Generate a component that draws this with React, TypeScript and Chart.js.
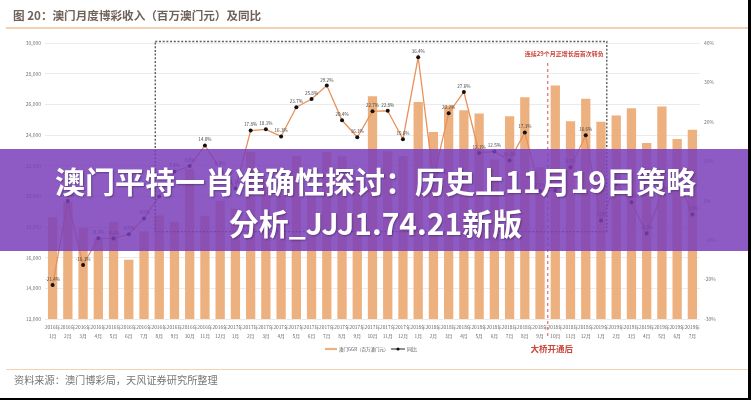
import React, { useEffect, useRef } from 'react';
import { Chart, registerables } from 'chart.js';

Chart.register(...registerables);

const FONT = '"Noto Sans CJK SC", "Noto Sans", sans-serif';

const categories = [
  '2016年1月', '2016年2月', '2016年3月', '2016年4月', '2016年5月', '2016年6月',
  '2016年7月', '2016年8月', '2016年9月', '2016年10月', '2016年11月', '2016年12月',
  '2017年1月', '2017年2月', '2017年3月', '2017年4月', '2017年5月', '2017年6月',
  '2017年7月', '2017年8月', '2017年9月', '2017年10月', '2017年11月', '2017年12月',
  '2018年1月', '2018年2月', '2018年3月', '2018年4月', '2018年5月', '2018年6月',
  '2018年7月', '2018年8月', '2018年9月', '2018年10月', '2018年11月', '2018年12月',
  '2019年1月', '2019年2月', '2019年3月', '2019年4月', '2019年5月', '2019年6月',
  '2019年7月',
];

// 澳门GGR（百万澳门元）
const ggr = [
  18620, 19650, 17930, 17230, 18320, 15860,
  17710, 18750, 18320, 21800, 18730, 19710,
  19190, 22900, 21200, 20050, 22650, 19930,
  22870, 22610, 21280, 26530, 22940, 22610,
  26160, 24200, 25900, 25610, 25400, 22400,
  25220, 26460, 21900, 27230, 24900, 26360,
  24860, 25270, 25750, 23480, 25860, 23740,
  24350,
];

// 同比（%）
const yoy = [
  -21.4, -0.1, -16.3, -9.5, -9.6, -8.5,
  -4.5, 1.1, 7.4, 8.8, 14.0, 8.0,
  3.1, 17.8, 18.1, 16.3, 23.7, 25.8,
  29.2, 20.4, 16.1, 22.7, 22.8, 15.6,
  36.4, 5.7, 22.2, 27.6, 12.1, 12.5,
  10.2, 17.3, 2.5, 2.6, 8.5, 16.6,
  -5.0, 4.4, -0.4, -8.3, 1.8, 5.9,
  -3.5,
];

const leftAxis = { min: 12000, max: 30000, step: 2000 };
const rightAxis = { min: -30, max: 40, step: 10 };

const titleText = '图 20：澳门月度博彩收入（百万澳门元）及同比';
const sourceText = '资料来源：澳门博彩局，天风证券研究所整理';
const barLegend = '澳门GGR（百万澳门元）';
const lineLegend = '同比';
const boxNote = '连续29个月正增长后首次转负';
const bridgeNote = '大桥开通后';
const bannerLine1 = '澳门平特一肖准确性探讨：历史上11月19日策略';
const bannerLine2 = '分析_JJJ1.74.21新版';

// annotation anchors (category index / left-axis units)
const BOX_FROM = 6.74;
const BOX_TO = 36.38;
const BOX_TOP = 30100;
const BOX_BOTTOM = 17700;
const BRIDGE_AT = 32.5;
const BRIDGE_TOP = 28700;

const BAR_COLOR = 'rgb(237,176,127)';
const LINE_COLOR = '#E8915A';

const overlayPlugin = {
  id: 'overlayPlugin',
  afterDatasetsDraw(chart: any) {
    const { ctx, chartArea, scales } = chart;
    const x = scales.x;
    const y = scales.y;
    ctx.save();

    // dashed box
    const bx0 = x.getPixelForValue(BOX_FROM);
    const bx1 = x.getPixelForValue(BOX_TO);
    const by0 = y.getPixelForValue(BOX_TOP);
    const by1 = y.getPixelForValue(BOX_BOTTOM);
    ctx.strokeStyle = '#5e5e5e';
    ctx.lineWidth = 1.4;
    ctx.setLineDash([2, 1.7]);
    ctx.strokeRect(bx0, by0, bx1 - bx0, by1 - by0);

    // bridge line
    const px = x.getPixelForValue(BRIDGE_AT);
    ctx.strokeStyle = '#E07F8A';
    ctx.lineWidth = 1.4;
    ctx.setLineDash([3, 3]);
    ctx.beginPath();
    ctx.moveTo(px, y.getPixelForValue(BRIDGE_TOP));
    ctx.lineTo(px, chartArea.bottom + 18);
    ctx.stroke();
    ctx.setLineDash([]);

    // notes
    ctx.fillStyle = '#C9463D';
    ctx.font = `bold 6px ${FONT}`;
    ctx.textAlign = 'right';
    ctx.textBaseline = 'middle';
    ctx.fillText(boxNote, bx1 - 3, y.getPixelForValue(29320));

    ctx.font = `bold 8.5px ${FONT}`;
    ctx.textAlign = 'center';
    ctx.fillText(bridgeNote, px + 4, chartArea.bottom + 30);

    // point labels
    const meta = chart.getDatasetMeta(0);
    ctx.fillStyle = '#444';
    ctx.font = `4.6px ${FONT}`;
    ctx.textAlign = 'center';
    ctx.textBaseline = 'bottom';
    meta.data.forEach((pt: any, i: number) => {
      ctx.fillText(yoy[i].toFixed(1) + '%', pt.x, pt.y - 3.5);
    });

    // legend
    const ly = chartArea.bottom + 30;
    ctx.strokeStyle = BAR_COLOR;
    ctx.lineWidth = 2.2;
    ctx.beginPath();
    ctx.moveTo(325, ly);
    ctx.lineTo(337, ly);
    ctx.stroke();
    ctx.fillStyle = '#555';
    ctx.font = `4.5px ${FONT}`;
    ctx.textAlign = 'left';
    ctx.textBaseline = 'middle';
    ctx.fillText(barLegend, 339, ly);
    ctx.strokeStyle = '#222';
    ctx.lineWidth = 1;
    ctx.beginPath();
    ctx.moveTo(391, ly);
    ctx.lineTo(405, ly);
    ctx.stroke();
    ctx.fillStyle = '#111';
    ctx.beginPath();
    ctx.arc(398, ly, 1.6, 0, Math.PI * 2);
    ctx.fill();
    ctx.fillStyle = '#555';
    ctx.font = `5px ${FONT}`;
    ctx.fillText(lineLegend, 407, ly);

    ctx.restore();
  },
};

export default function App() {
  const canvasRef = useRef<HTMLCanvasElement | null>(null);

  useEffect(() => {
    if (!canvasRef.current) return;
    const chart = new Chart(canvasRef.current, {
      type: 'bar',
      data: {
        labels: categories,
        datasets: [
          {
            type: 'line',
            label: lineLegend,
            data: yoy,
            yAxisID: 'y1',
            borderColor: LINE_COLOR,
            borderWidth: 1.3,
            pointRadius: 2,
            pointBackgroundColor: '#111',
            pointBorderWidth: 0,
            tension: 0,
            order: 0,
          } as any,
          {
            type: 'bar',
            label: barLegend,
            data: ggr,
            yAxisID: 'y',
            backgroundColor: BAR_COLOR,
            borderWidth: 0,
            categoryPercentage: 1,
            barPercentage: 0.61,
            order: 1,
          } as any,
        ],
      },
      options: {
        animation: false,
        responsive: true,
        maintainAspectRatio: false,
        layout: { padding: { top: 43, left: 0, right: 0, bottom: 59 } },
        plugins: { legend: { display: false }, tooltip: { enabled: false } },
        scales: {
          x: {
            offset: true,
            grid: { display: false, drawTicks: false },
            border: { display: false },
            ticks: {
              autoSkip: false,
              maxRotation: 0,
              minRotation: 0,
              padding: 3,
              color: '#666',
              font: { family: FONT, size: 4.8, lineHeight: 2.0 },
              callback: (_v: any, i: number) => {
                const s = categories[i];
                const k = s.indexOf('年');
                return [s.slice(0, k + 1), s.slice(k + 1)];
              },
            },
            afterFit: (s: any) => { s.height = 22; },
          },
          y: {
            position: 'left',
            min: leftAxis.min,
            max: leftAxis.max,
            grid: { color: '#e6e6e6', lineWidth: 0.8, drawTicks: false },
            border: { display: false },
            ticks: {
              stepSize: leftAxis.step,
              padding: 4,
              color: '#777',
              font: { family: FONT, size: 5 },
              callback: (v: any) => Number(v).toLocaleString('en-US'),
            },
            afterFit: (s: any) => { s.width = 45; },
          },
          y1: {
            position: 'right',
            min: rightAxis.min,
            max: rightAxis.max,
            grid: { display: false, drawTicks: false },
            border: { display: false },
            ticks: {
              stepSize: rightAxis.step,
              padding: 4,
              color: '#777',
              font: { family: FONT, size: 5 },
              callback: (v: any) => `${v}%`,
            },
            afterFit: (s: any) => { s.width = 51; },
          },
        },
      },
      plugins: [overlayPlugin],
    } as any);
    return () => chart.destroy();
  }, []);

  return (
    <div style={{ position: 'fixed', left: 0, top: 0, width: 751, height: 400, background: '#fff', overflow: 'hidden', fontFamily: FONT }}>
      <div style={{ position: 'absolute', left: 0, top: 0, width: 751, height: 400 }}>
        <canvas ref={canvasRef} />
      </div>
      <div style={{ position: 'absolute', left: 13, top: 6, fontSize: 11.6, fontWeight: 700, color: '#6f6259', whiteSpace: 'nowrap', lineHeight: '18px' }}>{titleText}</div>
      <div style={{ position: 'absolute', left: 6, top: 26.5, width: 745, height: 2, background: '#f3d2b4' }} />
      <div style={{ position: 'absolute', left: 6, top: 368.5, width: 745, height: 1.5, background: '#f3d2b4' }} />
      <div style={{ position: 'absolute', left: 14, top: 372, fontSize: 10.2, color: '#777', whiteSpace: 'nowrap', lineHeight: '16px' }}>{sourceText}</div>
      <div style={{ position: 'absolute', left: 0, top: 149, width: 751, height: 102, background: 'rgba(122, 62, 187, 0.85)' }}>
        <div style={{ position: 'absolute', left: 0, top: 10, width: 751, textAlign: 'center', color: '#fff', fontSize: 30, fontWeight: 700, lineHeight: '42px', whiteSpace: 'nowrap', textShadow: '1px 1px 2px rgba(0,0,0,0.35)' }}>{bannerLine1}</div>
        <div style={{ position: 'absolute', left: 0, top: 52, width: 751, textAlign: 'center', color: '#fff', fontSize: 30, fontWeight: 700, lineHeight: '42px', whiteSpace: 'nowrap', textShadow: '1px 1px 2px rgba(0,0,0,0.35)' }}>{bannerLine2}</div>
      </div>
      <div style={{ position: 'absolute', left: 748, top: 0, width: 3, height: 400, background: '#000' }} />
      <div style={{ position: 'absolute', left: 0, top: 398, width: 751, height: 2, background: '#000' }} />
    </div>
  );
}
